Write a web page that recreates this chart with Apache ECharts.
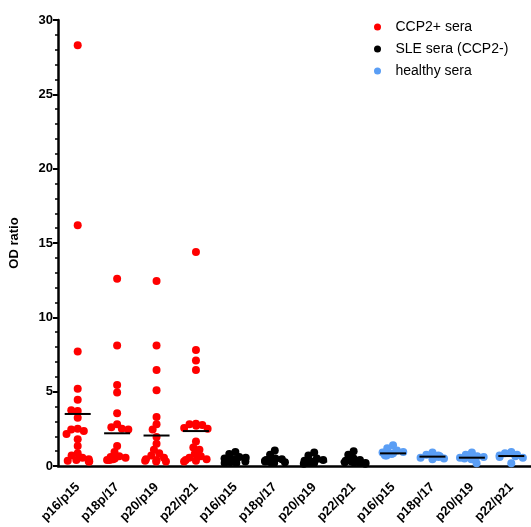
<!DOCTYPE html>
<html>
<head>
<meta charset="utf-8">
<script src="https://cdn.jsdelivr.net/npm/echarts@6.0.0/dist/echarts.min.js"></script>
<style>
	html, body { margin: 0; padding: 0; background: #fff; }
	#main { width: 531px; height: 527px; }
</style>
</head>
<body>
<div id="main"></div>
<script>
// x axis labels (three groups of four peptide pairs)
var categories = ['p16/p15', 'p18p/17', 'p20/p19', 'p22/p21',
	'p16/p15', 'p18p/17', 'p20/p19', 'p22/p21',
	'p16/p15', 'p18p/17', 'p20/p19', 'p22/p21'];

var yTicks = { min: 0, max: 30, interval: 5 };

// CCP2+ sera, one array per peptide pair
var ccpP16 = [28.3, 16.2, 7.7, 5.2, 4.45, 3.7, 3.75, 3.25, 2.5, 2.45, 2.35, 2.15, 1.8, 1.35, 0.85, 0.7, 0.55, 0.45, 0.4, 0.35, 0.3, 0.3];
var ccpP18 = [12.6, 8.1, 5.45, 4.95, 3.55, 2.8, 2.6, 2.5, 2.45, 1.35, 0.95, 0.65, 0.6, 0.55, 0.5, 0.45, 0.4, 0.4];
var ccpP20 = [12.45, 8.1, 6.45, 5.1, 3.3, 2.8, 2.45, 1.95, 1.5, 1.1, 0.85, 0.7, 0.55, 0.45, 0.4, 0.35, 0.3, 0.3];
var ccpP22 = [14.4, 7.8, 7.1, 6.45, 2.85, 2.8, 2.75, 2.7, 2.55, 2.5, 1.65, 1.25, 1.1, 0.8, 0.65, 0.55, 0.45, 0.4, 0.35, 0.3];

// SLE sera (CCP2-)
var sleP16 = [0.95, 0.8, 0.6, 0.55, 0.5, 0.45, 0.4, 0.35, 0.3, 0.3, 0.25, 0.2, 0.2];
var sleP18 = [1.05, 0.75, 0.5, 0.45, 0.4, 0.35, 0.3, 0.3, 0.25, 0.25, 0.2, 0.2];
var sleP20 = [0.9, 0.7, 0.5, 0.4, 0.35, 0.3, 0.3, 0.25, 0.25, 0.2, 0.2, 0.15];
var sleP22 = [1.0, 0.75, 0.5, 0.4, 0.35, 0.3, 0.3, 0.25, 0.25, 0.2, 0.2, 0.15];

// healthy sera
var hP16 = [1.4, 1.2, 1.05, 0.95, 0.9, 0.85, 0.8, 0.75, 0.7, 0.7];
var hP18 = [0.9, 0.75, 0.7, 0.65, 0.6, 0.6, 0.55, 0.5, 0.45];
var hP20 = [0.9, 0.75, 0.65, 0.6, 0.55, 0.5, 0.45, 0.18];
var hP22 = [0.95, 0.85, 0.75, 0.7, 0.65, 0.6, 0.55, 0.18];

// horizontal bar per column
var centerLines = [3.5, 2.2, 2.05, 2.35, 0.45, 0.35, 0.3, 0.3, 0.85, 0.63, 0.56, 0.67];

var seriesNames = ['CCP2+ sera', 'SLE sera (CCP2-)', 'healthy sera'];
var seriesColors = ['#ff0000', '#000000', '#5a9ef5'];

function toPoints(groups, firstIndex) {
	var out = [];
	for (var g = 0; g < groups.length; g++) {
		for (var i = 0; i < groups[g].length; i++) {
			out.push([firstIndex + g, groups[g][i]]);
		}
	}
	return out;
}

var dom = document.getElementById('main');
var myChart = echarts.init(dom, null, { renderer: 'canvas' });
var font = 'Arial, "Liberation Sans", sans-serif';

var option = {
	animation: false,
	backgroundColor: '#fff',
	grid: { left: 56, right: 0, top: 20, bottom: 61, containLabel: false },
	legend: {
		orient: 'vertical',
		left: 369,
		top: 15,
		itemWidth: 26,
		itemHeight: 7,
		itemGap: 8,
		icon: 'circle',
		data: seriesNames,
		textStyle: { fontFamily: font, fontSize: 14, color: '#000' }
	},
	xAxis: {
		type: 'category',
		data: categories,
		jitter: 24,
		jitterOverlap: false,
		jitterMargin: -1.5,
		axisLine: { lineStyle: { color: '#000', width: 2.5 } },
		axisTick: { alignWithLabel: true, length: 7, lineStyle: { color: '#000', width: 2 } },
		axisLabel: {
			rotate: 45, interval: 0, margin: 19,
			fontFamily: font, fontSize: 13, fontWeight: 'bold', color: '#000'
		},
		splitLine: { show: false }
	},
	yAxis: {
		type: 'value',
		min: yTicks.min,
		max: yTicks.max,
		interval: yTicks.interval,
		name: 'OD ratio',
		nameLocation: 'middle',
		nameGap: 37,
		nameTextStyle: { fontFamily: font, fontSize: 13, fontWeight: 'bold', color: '#000' },
		axisLine: { show: true, lineStyle: { color: '#000', width: 2.5 } },
		axisTick: { show: true, length: 5, lineStyle: { color: '#000', width: 2 } },
		minorTick: { show: true, splitNumber: 5, length: 3, lineStyle: { color: '#000', width: 1.5 } },
		axisLabel: { fontFamily: font, fontSize: 13, fontWeight: 'bold', color: '#000', margin: 5 },
		splitLine: { show: false }
	},
	series: [
		{
			name: seriesNames[0], type: 'scatter', symbolSize: 8,
			itemStyle: { color: seriesColors[0], opacity: 1 },
			data: toPoints([ccpP16, ccpP18, ccpP20, ccpP22], 0)
		},
		{
			name: seriesNames[1], type: 'scatter', symbolSize: 8,
			itemStyle: { color: seriesColors[1], opacity: 1 },
			data: toPoints([sleP16, sleP18, sleP20, sleP22], 4)
		},
		{
			name: seriesNames[2], type: 'scatter', symbolSize: 8,
			itemStyle: { color: seriesColors[2], opacity: 1 },
			data: toPoints([hP16, hP18, hP20, hP22], 8)
		},
		{
			name: 'line', type: 'custom', z: 5, silent: true,
			data: centerLines.map(function (v, i) { return [i, v]; }),
			renderItem: function (params, api) {
				var c = api.coord([api.value(0), api.value(1)]);
				var half = api.size([1, 0])[0] * 0.33;
				return {
					type: 'line',
					shape: { x1: c[0] - half, y1: c[1], x2: c[0] + half, y2: c[1] },
					style: { stroke: '#000', lineWidth: 2 }
				};
			}
		}
	]
};

myChart.setOption(option, true);
</script>
</body>
</html>
